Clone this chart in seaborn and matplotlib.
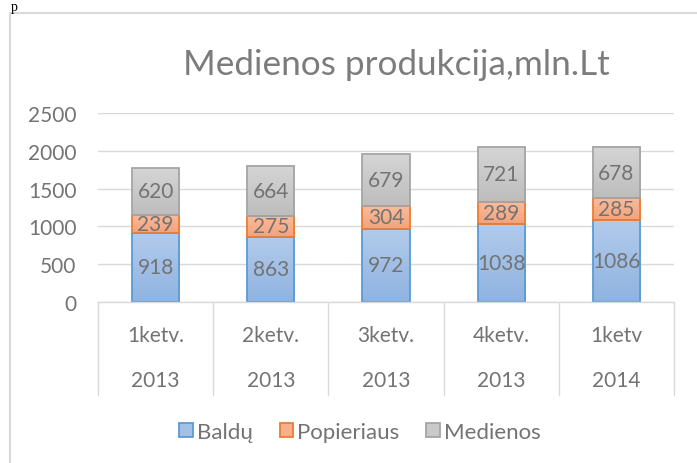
import numpy as np
import pandas as pd
import matplotlib
matplotlib.use('Agg')
import matplotlib.pyplot as plt
import seaborn as sns
from matplotlib.colors import LinearSegmentedColormap
from matplotlib.lines import Line2D
from matplotlib.patches import Patch

# ---- data ----
quarters = ['1ketv.', '2ketv.', '3ketv.', '4ketv.', '1ketv']
years = ['2013', '2013', '2013', '2013', '2014']
series_names = ['Baldų', 'Popieriaus', 'Medienos']
baldu = [918, 863, 972, 1038, 1086]
popieriaus = [239, 275, 304, 289, 285]
medienos = [620, 664, 679, 721, 678]
title = 'Medienos produkcija,mln.Lt'
y_ticks = [0, 500, 1000, 1500, 2000, 2500]

# ---- styles ----
grad_top = ['#b2cbeb', '#f8bc9c', '#d5d5d5']
grad_bot = ['#8fb3e1', '#f4a27b', '#bdbdbd']
edges = ['#5b9bd5', '#ed7d31', '#a5a5a5']
mids = ['#a3c0e7', '#f6b08c', '#c9c9c9']
txt_gray = '#737373'
title_gray = '#7c7c7c'
line_gray = '#d9d9d9'

sns.set_theme(style='white')
plt.rcParams['font.family'] = ['Lato', 'DejaVu Sans']

W, H = 697, 464
fig = plt.figure(figsize=(W / 100, H / 100), dpi=100)
ax = fig.add_axes([98 / W, 1 - 303 / H, (674 - 98) / W, (303 - 114) / H])

cats = [f'{q} {y}' for q, y in zip(quarters, years)]
df = pd.DataFrame({'cat': cats, series_names[0]: baldu,
                   series_names[1]: popieriaus, series_names[2]: medienos})
values = [baldu, popieriaus, medienos]

bottom = np.zeros(len(cats))
for i, name in enumerate(series_names):
    n0 = len(ax.patches)
    sns.barplot(data=df, x='cat', y=name, order=cats, bottom=bottom.copy(),
                width=0.41, color=mids[i], edgecolor=edges[i], linewidth=1.3,
                errorbar=None, ax=ax, zorder=2)
    new = ax.patches[n0:]
    cmap = LinearSegmentedColormap.from_list(f'g{i}', [grad_bot[i], grad_top[i]])
    grad = np.linspace(0, 1, 128).reshape(-1, 1)
    for j, p in enumerate(new):
        x0, y0 = p.get_xy()
        w, h = p.get_width(), p.get_height()
        ax.imshow(grad, extent=[x0, x0 + w, y0, y0 + h], origin='lower',
                  cmap=cmap, aspect='auto', zorder=1.5 + 0.1 * i, interpolation='bilinear')
        p.set_facecolor('none')
        p.set_zorder(2 + 0.1 * i)
        ax.text(x0 + w / 2, y0 + h / 2, str(values[i][j]), ha='center', va='center',
                fontsize=15, color=txt_gray, zorder=5)
    bottom += np.array(values[i])

ax.set_xlim(-0.5, len(cats) - 0.5)
ax.set_ylim(0, 2500)
ax.set_yticks(y_ticks)
ax.set_yticklabels([str(t) for t in y_ticks])
ax.tick_params(axis='y', length=0, pad=15.5, labelsize=15, labelcolor=txt_gray)
ax.set_xticks([])
ax.set_xlabel('')
ax.set_ylabel('')
ax.yaxis.grid(True, color=line_gray, lw=1)
ax.set_axisbelow(True)
for s in ['left', 'right', 'top']:
    ax.spines[s].set_visible(False)
ax.spines['bottom'].set_color(line_gray)
ax.spines['bottom'].set_linewidth(1)

# multi-level category axis
trans = ax.get_xaxis_transform()
axh = 303 - 114
for xb in np.arange(-0.5, len(cats), 1.0):
    ax.add_line(Line2D([xb, xb], [0, -(396 - 303) / axh], transform=trans,
                       color=line_gray, lw=1, clip_on=False))
for k, (q, y) in enumerate(zip(quarters, years)):
    ax.text(k, -(336 - 303) / axh, q, transform=trans, ha='center', va='center',
            fontsize=15, color=txt_gray)
    ax.text(k, -(381 - 303) / axh, y, transform=trans, ha='center', va='center',
            fontsize=15, color=txt_gray)

# title
fig.text(396 / W, 1 - 65 / H, title, ha='center', va='center', fontsize=25.3,
         color=title_gray)

# legend
handles = [Patch(facecolor=mids[i], edgecolor=edges[i], linewidth=1.3) for i in range(3)]
fig.legend(handles, series_names, loc='center', bbox_to_anchor=(360 / W, 1 - 433 / H),
           ncol=3, frameon=False, fontsize=16, handlelength=0.6, handleheight=0.6,
           handletextpad=0.2, columnspacing=1.2, labelcolor=txt_gray)

# chart frame (cropped at right and bottom)
fig.add_artist(Line2D([10 / W, 10 / W], [0, 1 - 14 / H], transform=fig.transFigure,
                      color=line_gray, lw=1.5))
fig.add_artist(Line2D([10 / W, 1], [1 - 14 / H, 1 - 14 / H], transform=fig.transFigure,
                      color=line_gray, lw=1.5))

# document text above the chart
fig.text(11 / W, 1 - 0.5 / H, 'p', fontsize=10, family=['Liberation Serif'],
         color='black', va='top', ha='left')

fig.savefig('out.png', dpi=100)
